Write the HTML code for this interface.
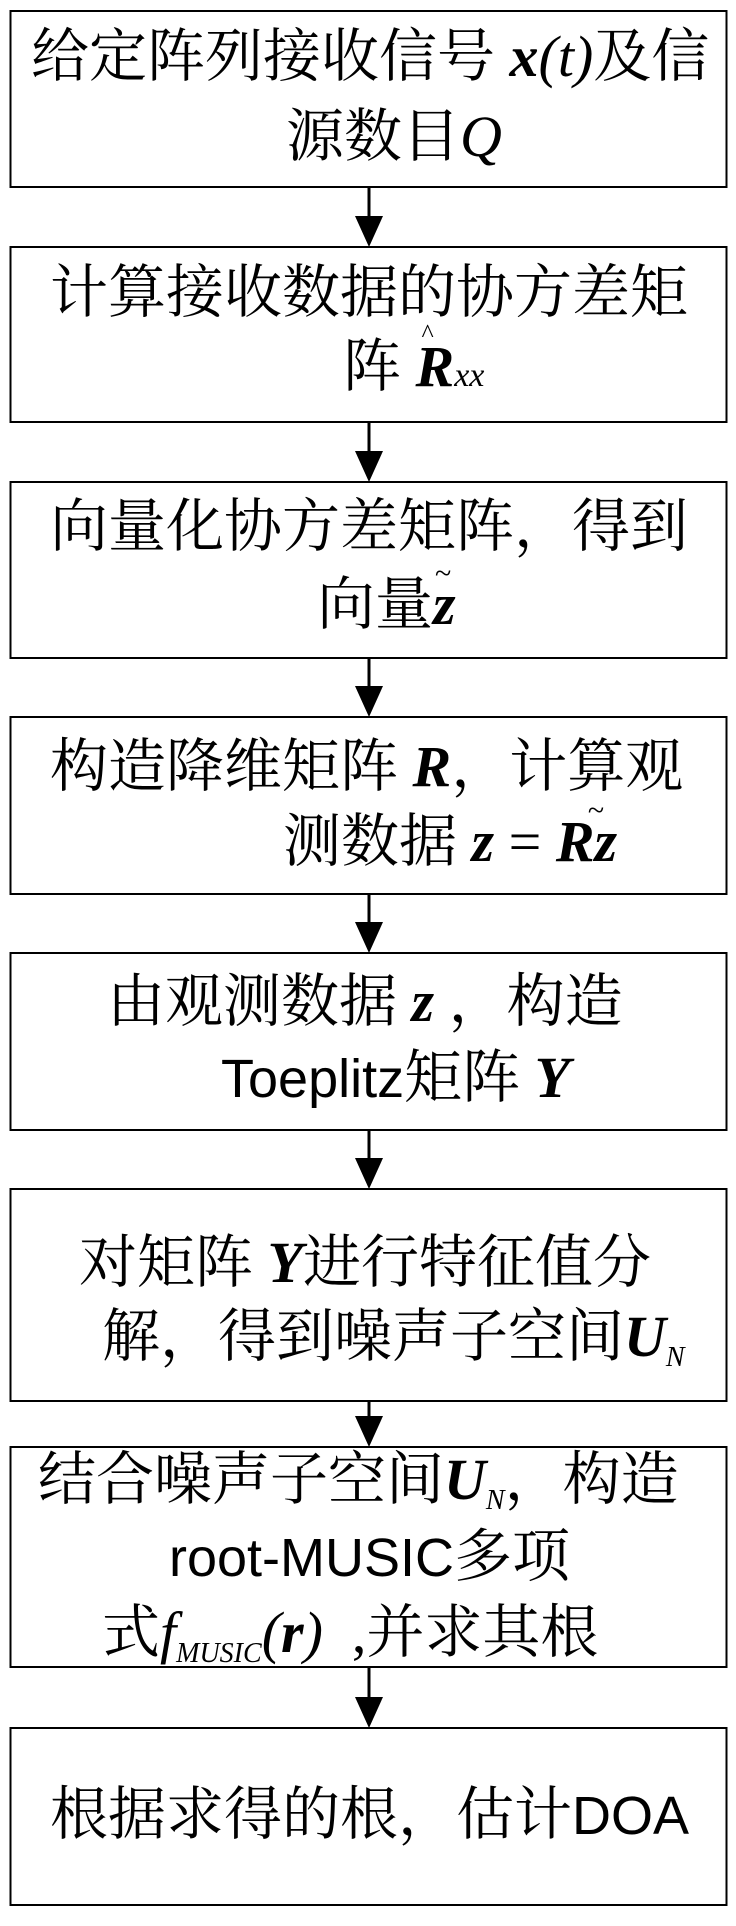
<!DOCTYPE html>
<html><head><meta charset="utf-8">
<style>
html,body{margin:0;padding:0;background:#fff;}
#c{position:relative;width:736px;height:1926px;overflow:hidden;}
svg{position:absolute;left:0;top:0;}
.l{position:absolute;white-space:nowrap;font-family:"Liberation Serif","Noto Serif CJK SC","Noto Sans CJK SC",serif;font-size:58px;line-height:60px;height:60px;color:#000;}
.m{font-family:"Liberation Serif",serif;font-weight:bold;font-style:italic;}
.mi{font-family:"Liberation Serif",serif;font-style:italic;}
.s{font-family:"Liberation Sans","Noto Sans CJK SC",sans-serif;font-size:54px;}
sub{font-size:28px;vertical-align:-10px;}
</style></head><body><div id="c">
<svg width="736" height="1926" viewBox="0 0 736 1926">
<g fill="none" stroke="#000" stroke-width="2">
<rect x="10.5" y="11" width="716" height="176"/>
<rect x="10.5" y="247" width="716" height="175"/>
<rect x="10.5" y="482" width="716" height="176"/>
<rect x="10.5" y="717" width="716" height="177"/>
<rect x="10.5" y="953" width="716" height="177"/>
<rect x="10.5" y="1189" width="716" height="212"/>
<rect x="10.5" y="1447" width="716" height="220"/>
<rect x="10.5" y="1728" width="716" height="177"/>
</g>
<g stroke="#000" stroke-width="3">
<line x1="369" y1="187" x2="369" y2="220"/>
<line x1="369" y1="422" x2="369" y2="455"/>
<line x1="369" y1="658" x2="369" y2="690"/>
<line x1="369" y1="894" x2="369" y2="926"/>
<line x1="369" y1="1130" x2="369" y2="1162"/>
<line x1="369" y1="1401" x2="369" y2="1420"/>
<line x1="369" y1="1667" x2="369" y2="1700"/>
</g>
<g fill="#000">
<polygon points="355,216 383,216 369,247"/>
<polygon points="355,451 383,451 369,482"/>
<polygon points="355,686 383,686 369,717"/>
<polygon points="355,922 383,922 369,953"/>
<polygon points="355,1158 383,1158 369,1189"/>
<polygon points="355,1416 383,1416 369,1447"/>
<polygon points="355,1697 383,1697 369,1728"/>
</g>
</svg>

<div class="l" style="left:31px;top:27px;">给定阵列接收信号 <span class="m">x</span><span class="mi">(t)</span>及信</div>
<div class="l" style="left:286px;top:107px;">源数目<span class="mi">Q</span></div>

<div class="l" style="left:50px;top:263px;">计算接收数据的协方差矩</div>
<div class="l" style="left:343px;top:337px;">阵 <span class="m" style="position:relative;">R<span style="position:absolute;left:6px;top:-30px;font-size:26px;font-weight:normal;font-style:normal;">^</span></span><span class="mi" style="font-size:34px;">xx</span></div>

<div class="l" style="left:50px;top:497px;">向量化协方差矩阵，得到</div>
<div class="l" style="left:317px;top:575px;">向量<span class="m" style="position:relative;">z<span style="position:absolute;left:2px;top:-28px;font-size:30px;font-weight:normal;font-style:normal;">~</span></span></div>

<div class="l" style="left:50px;top:737px;">构造降维矩阵 <span class="m">R</span>，计算观</div>
<div class="l" style="left:283px;top:812px;">测数据 <span class="m">z</span> = <span class="m" style="position:relative;">Rz<span style="position:absolute;left:32px;top:-28px;font-size:30px;font-weight:normal;font-style:normal;">~</span></span></div>

<div class="l" style="left:107px;top:972px;">由观测数据 <span class="m">z</span> ，构造</div>
<div class="l" style="left:221px;top:1048px;"><span class="s">Toeplitz</span>矩阵 <span class="m">Y</span></div>

<div class="l" style="left:79px;top:1233px;">对矩阵 <span class="m">Y</span>进行特征值分</div>
<div class="l" style="left:102px;top:1307px;">解，得到噪声子空间<span class="m">U</span><sub class="mi">N</sub></div>

<div class="l" style="left:38px;top:1450px;">结合噪声子空间<span class="m">U</span><sub class="mi">N</sub>，构造</div>
<div class="l" style="left:169px;top:1527px;"><span class="s">root-MUSIC</span>多项</div>
<div class="l" style="left:102px;top:1603px;">式<span class="mi">f</span><sub class="mi">MUSIC</sub><span class="mi">(</span><span class="m">r</span><span class="mi">)</span>&nbsp; ,并求其根</div>

<div class="l" style="left:50px;top:1785px;">根据求得的根，估计<span class="s">DOA</span></div>
</div></body></html>
